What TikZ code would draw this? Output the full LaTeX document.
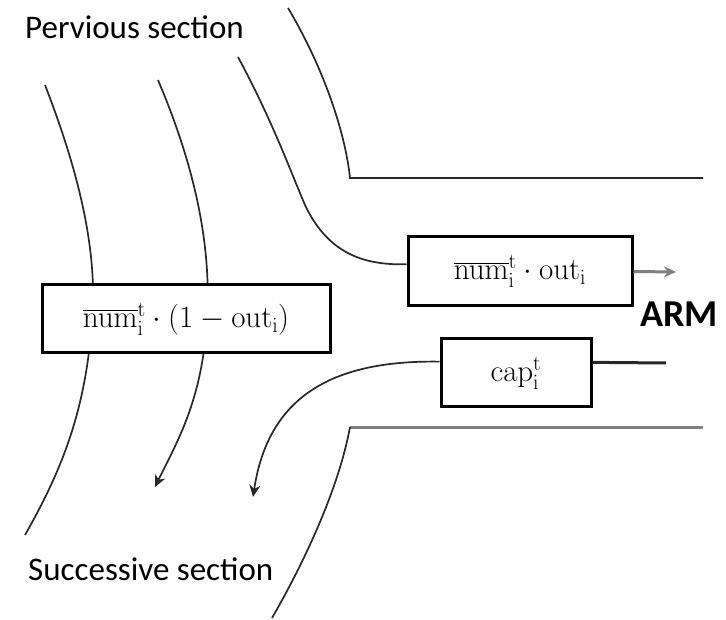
\RequirePackage{fix-cm}
\documentclass[tikz,border=0pt]{standalone}
\usepackage[no-math]{fontspec}
\setmainfont{Carlito}
\usepackage{amsmath}
\usepackage{tikz}
\usetikzlibrary{arrows.meta, calc}
\definecolor{edgegray}{RGB}{40, 40, 40}
\definecolor{flowgray}{RGB}{128, 128, 128}

\begin{document}
\begin{tikzpicture}[
  x=1pt, y=-1pt,
  flowbox/.style={draw, line width=3pt, fill=white, inner sep=0pt, font=\fontsize{31}{38}\selectfont},
  bound/.style={draw=edgegray, line width=1.7pt},
  flow/.style={edgegray, line width=1.7pt, -{Stealth[length=12pt, width=11pt]}},
  seclabel/.style={font=\fontsize{33}{40}\selectfont, inner sep=0pt}
]
  \useasboundingbox (0,0) rectangle (726,620);

  % section boundaries
  \draw[bound] (288,8) .. controls (322,65) and (345,130) .. (350,178) -- (703,178);
  \draw[flowgray, line width=3pt] (703,427) -- (350,427);
  \draw[bound] (350,427) .. controls (340,482) and (310,552) .. (272,618);
  \draw[bound] (45,85) .. controls (78,170) and (98,250) .. (92,320)
                     .. controls (86,410) and (62,470) .. (25,535);

  % boxes
  \coordinate (tailA) at (238,57);
  \coordinate (tailB) at (158,80);
  \coordinate (headB) at (155,487);
  \coordinate (headC) at (253,497);
  \coordinate (armend) at (676,272);
  \coordinate (capend) at (666,363);

  \draw[flow] (tailB) .. controls (192,160) and (212,240) .. (207,320)
                     .. controls (202,400) and (178,440) .. (headB);

  \node[flowbox, minimum width=288pt, minimum height=68pt] (stay) at (186,319)
    {$\overline{\mathrm{num}}_{\mathrm{i}}^{\mathrm{t}}\cdot(1-\mathrm{out}_{\mathrm{i}})$};
  \node[flowbox, minimum width=224pt, minimum height=69pt] (out) at (520,271.5)
    {$\overline{\mathrm{num}}_{\mathrm{i}}^{\mathrm{t}}\cdot\mathrm{out}_{\mathrm{i}}$};
  \node[flowbox, minimum width=150pt, minimum height=68pt] (cap) at (516,373)
    {$\mathrm{cap}_{\mathrm{i}}^{\mathrm{t}}$};

  % flows
  \draw[bound] (tailA) .. controls (272,120) and (290,170) .. (305,205)
                     .. controls (330,258) and (370,265) .. ($(out.north west)!0.4!(out.south west)$);
  \draw[flow] ($(cap.north west)!0.34!(cap.south west)$) .. controls (330,360) and (268,398) .. (headC);
  \draw[flowgray, line width=3pt, -{Stealth[length=12pt, width=11pt]}] (out.east) -- (armend);
  \draw[edgegray, line width=3pt] ($(cap.north east)!0.35!(cap.south east)$) -- (capend);

  % labels
  \node[seclabel, anchor=west] (prev) at (25,27) {Pervious section};
  \node[seclabel, anchor=west] (succ) at (28,569) {Successive section};
  \node[font=\bfseries\fontsize{38}{44}\selectfont, inner sep=0pt, anchor=west] (arm) at (640,314) {ARM};
\end{tikzpicture}
\end{document}
